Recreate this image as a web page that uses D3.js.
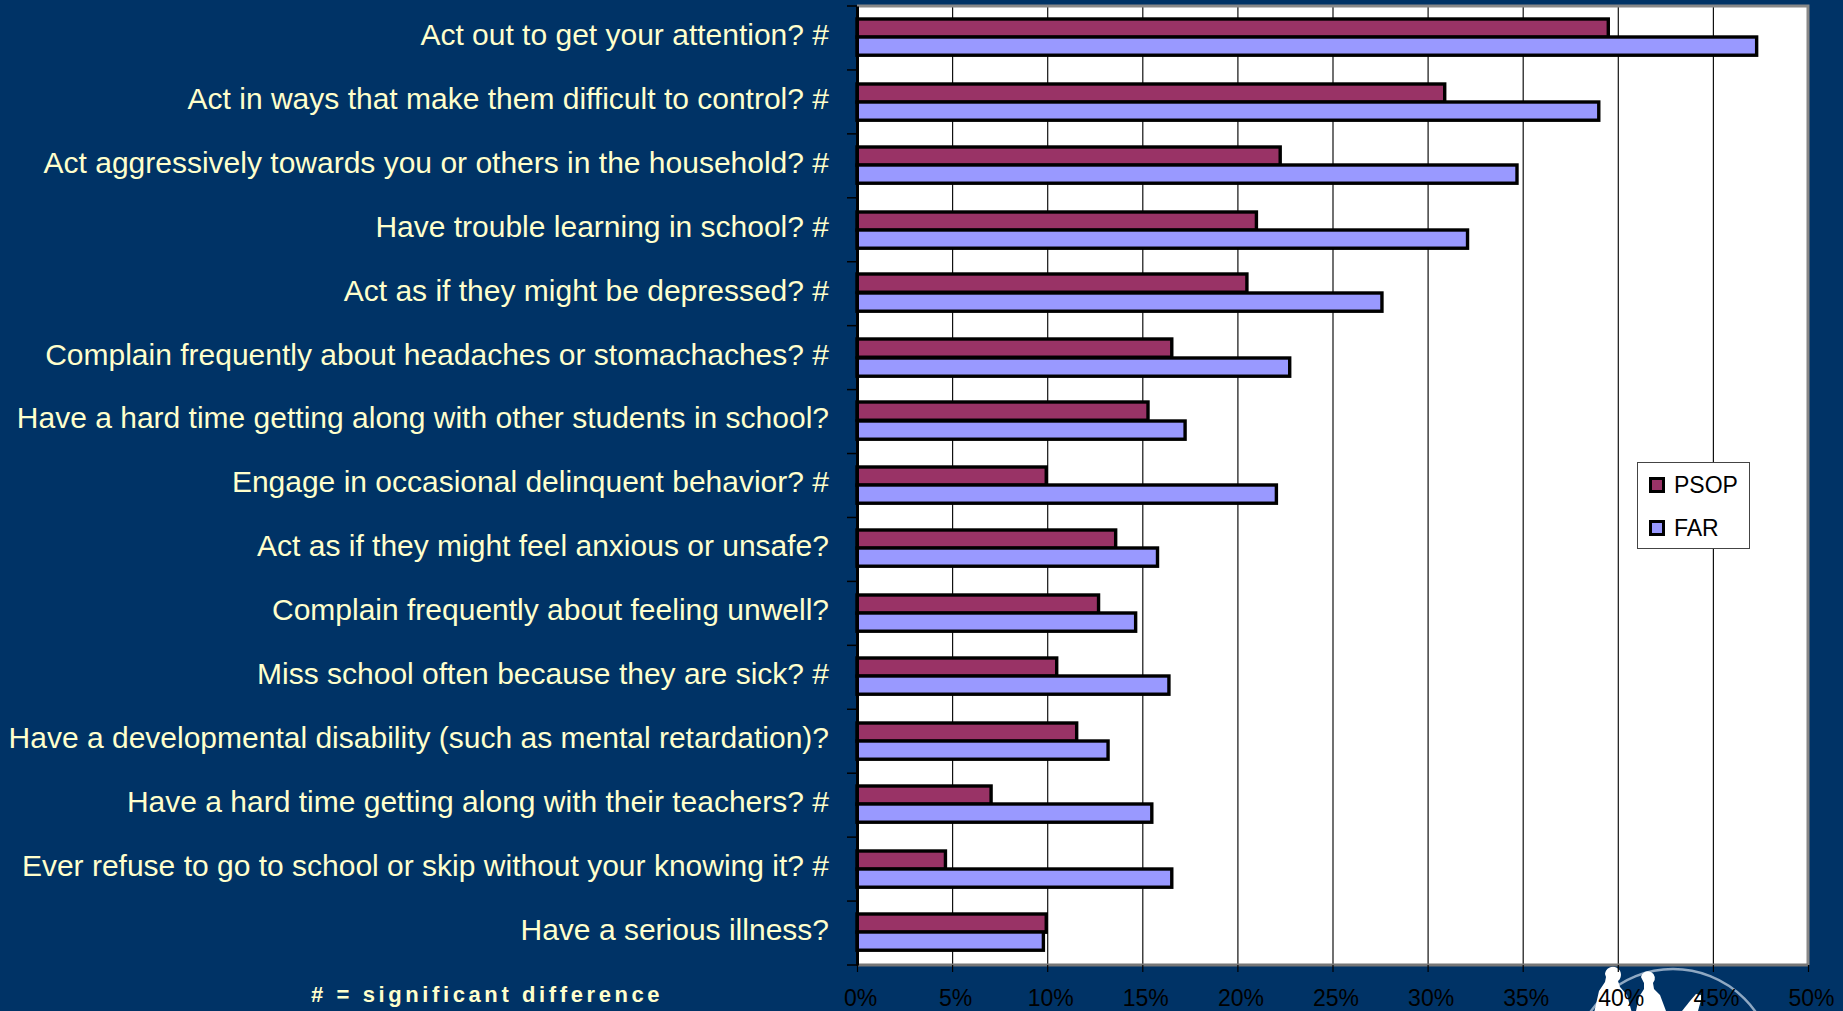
<!DOCTYPE html>
<html><head><meta charset="utf-8">
<script src="https://cdn.jsdelivr.net/npm/d3@7/dist/d3.min.js"></script>
<style>html,body{margin:0;padding:0;background:#003366;overflow:hidden}svg{display:block}text{font-family:"Liberation Sans",Arial,sans-serif}</style>
</head><body><div id="c"></div>
<script>
const categories=["Act out to get your attention? #","Act in ways that make them difficult to control? #","Act aggressively towards you or others in the household? #","Have trouble learning in school? #","Act as if they might be depressed? #","Complain frequently about headaches or stomachaches? #","Have a hard time getting along with other students in school?","Engage in occasional delinquent behavior? #","Act as if they might feel anxious or unsafe?","Complain frequently about feeling unwell?","Miss school often because they are sick? #","Have a developmental disability (such as mental retardation)?","Have a hard time getting along with their teachers? #","Ever refuse to go to school or skip without your knowing it? #","Have a serious illness?"];
const psop=[39.5,30.9,22.25,21,20.5,16.55,15.3,9.95,13.6,12.7,10.5,11.55,7.05,4.65,9.95];
const far=[47.3,39,34.7,32.1,27.6,22.75,17.25,22.05,15.8,14.65,16.4,13.2,15.5,16.55,9.8];
const seriesNames=["PSOP","FAR"];
const seriesColors=["#993366","#9999ff"];
const xTicks=[0,5,10,15,20,25,30,35,40,45,50];
const W=1843,H=1011,L=857,R=1808,T=6,B=965;
const svg=d3.select("#c").append("svg").attr("width",W).attr("height",H);
svg.append("rect").attr("width",W).attr("height",H).attr("fill","#003366");
const x=d3.scaleLinear().domain([0,50]).range([L,R]);
const y=d3.scaleBand().domain(categories).range([T,B]);
// logo
const logo=svg.append("g");
logo.append("circle").attr("cx",1673).attr("cy",1070).attr("r",101).attr("fill","none").attr("stroke","#8fa8c2").attr("stroke-width",2.5);
logo.append("g").attr("fill","#fff").selectAll("path").data([
 "M1605 974a8 8 0 1 1 13 7l2 6 7 8 5 18h-38l5-22 6-9 1-5z",
 "M1641 977a7 7 0 1 1 12 6l1 6 6 6 6 16h-30l3-14 5-8 0-6z",
 "M1690 1001l6-7 5 1 0 5-3 11h-16z"]).join("path").attr("d",d=>d);
// plot
svg.append("rect").attr("x",L).attr("y",T).attr("width",R-L).attr("height",B-T).attr("fill","#fff");
const grid=svg.append("g").attr("transform",`translate(0,${B})`)
 .call(d3.axisBottom(x).tickValues(xTicks).tickSize(-(B-T)).tickFormat(""));
grid.select(".domain").remove();
grid.selectAll("line").attr("stroke","#111").attr("stroke-width",1.2);
svg.append("path").attr("d",`M${L} ${T}H${R}V${B}`).attr("fill","none").attr("stroke","#888").attr("stroke-width",3);
svg.append("path").attr("d",`M${L} ${B}H${R}`).attr("stroke","#777").attr("stroke-width",3);
const barH=y.bandwidth()*0.285;
const groups=[psop,far];
groups.forEach((vals,s)=>{
 svg.append("g").selectAll("rect").data(vals).join("rect")
  .attr("x",x(0))
  .attr("y",(d,i)=>Math.round(y(categories[i])+y.bandwidth()/2-barH+s*barH)-(i%2?0:1))
  .attr("width",d=>x(d)-x(0))
  .attr("height",barH)
  .attr("fill",seriesColors[s]).attr("stroke","#000").attr("stroke-width",3.4);
});
// x axis
const xa=svg.append("g").attr("transform",`translate(0,${B})`)
 .call(d3.axisBottom(x).tickValues(xTicks).tickSize(7).tickPadding(18).tickFormat(d=>d+"%"));
xa.select(".domain").remove();
xa.selectAll("line").attr("stroke","#000").attr("stroke-width",1.2);
xa.selectAll("text").attr("font-size",23).attr("fill","#000").attr("dx",3).attr("font-family","Liberation Sans");
// y axis
const ya=svg.append("g").attr("transform",`translate(${L},0)`)
 .call(d3.axisLeft(y).tickSize(0).tickPadding(28));
ya.select(".domain").attr("stroke","#000").attr("stroke-width",3);
ya.selectAll("text").attr("font-size",30).attr("fill","#ffffcc").attr("dy","0.23em").attr("font-family","Liberation Sans");
svg.append("g").selectAll("line").data(d3.range(16)).join("line")
 .attr("x1",L-10).attr("x2",L).attr("y1",i=>T+i*y.step()).attr("y2",i=>T+i*y.step())
 .attr("stroke","#000").attr("stroke-width",1.5);
// footnote
svg.append("text").attr("x",311).attr("y",1002).attr("font-size",22).attr("font-weight","bold").attr("fill","#ffffcc").attr("letter-spacing",3.6).text("# = significant difference");
// legend
const lg=svg.append("g");
lg.append("rect").attr("x",1637.5).attr("y",462.5).attr("width",112).attr("height",86).attr("fill","#fff").attr("stroke","#444").attr("stroke-width",1);
seriesNames.forEach((n,i)=>{
 const yy=485+i*43;
 lg.append("rect").attr("x",1650.5).attr("y",yy-6.5).attr("width",13).attr("height",13).attr("fill",seriesColors[i]).attr("stroke","#000").attr("stroke-width",3);
 lg.append("text").attr("x",1674).attr("y",yy+8).attr("font-size",23).attr("fill","#000").text(n);
});
</script></body></html>
